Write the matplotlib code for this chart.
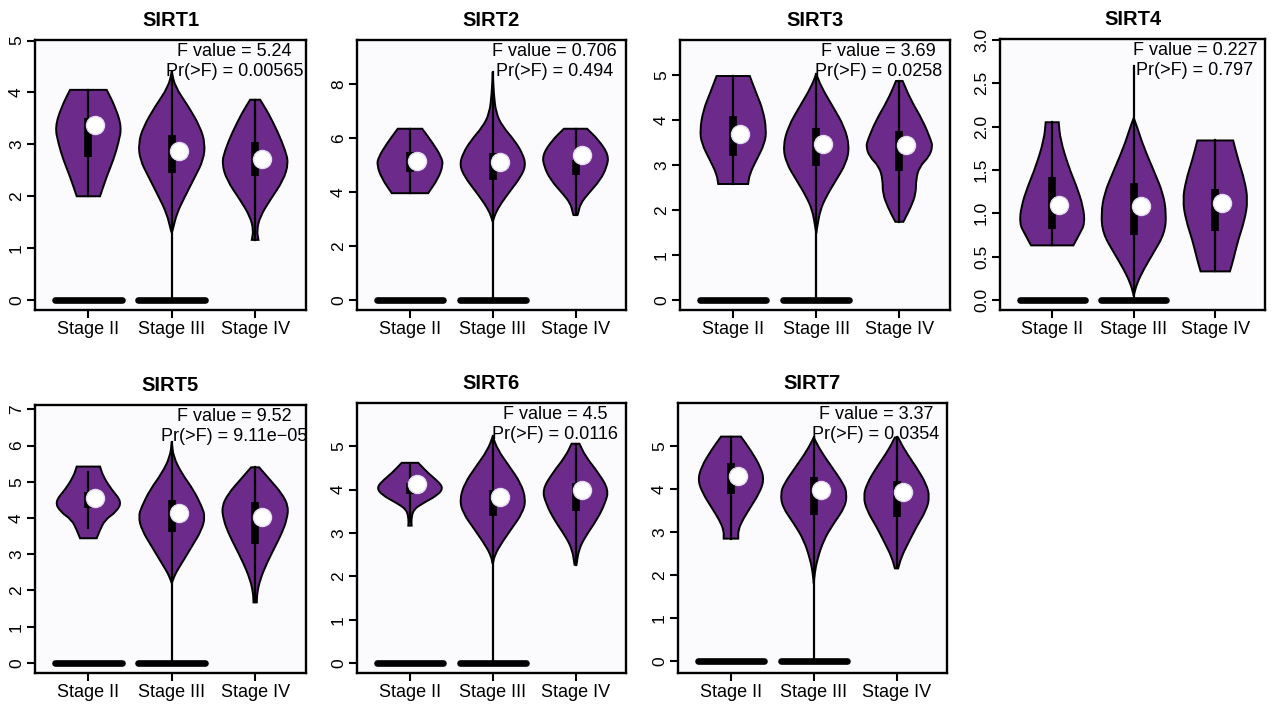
import matplotlib
matplotlib.use('Agg')
import matplotlib.pyplot as plt
import matplotlib.transforms as mtransforms
from matplotlib.path import Path
from matplotlib.patches import PathPatch

plt.rcParams['font.family'] = ['Liberation Sans', 'DejaVu Sans']

stages = ['Stage II', 'Stage III', 'Stage IV']
zero_bar_stages = ['Stage II', 'Stage III']
genes = ['SIRT1', 'SIRT2', 'SIRT3', 'SIRT4', 'SIRT5', 'SIRT6', 'SIRT7']
f_values = ['5.24', '0.706', '3.69', '0.227', '9.52', '4.5', '3.37']
p_values = ['0.00565', '0.494', '0.0258', '0.797', '9.11e\u221205', '0.0116', '0.0354']

y_ticks = {
    'SIRT1': [0, 1, 2, 3, 4, 5],
    'SIRT2': [0, 2, 4, 6, 8],
    'SIRT3': [0, 1, 2, 3, 4, 5],
    'SIRT4': [0.0, 0.5, 1.0, 1.5, 2.0, 2.5, 3.0],
    'SIRT5': [0, 1, 2, 3, 4, 5, 6, 7],
    'SIRT6': [0, 1, 2, 3, 4, 5],
    'SIRT7': [0, 1, 2, 3, 4, 5],
}
y_limits = {
    'SIRT1': (-0.19, 5.01), 'SIRT2': (-0.37, 9.64), 'SIRT3': (-0.22, 5.78),
    'SIRT4': (-0.115, 3.01), 'SIRT5': (-0.28, 7.12), 'SIRT6': (-0.23, 6.0),
    'SIRT7': (-0.27, 6.0),
}

# violin outline: y levels and relative half width (1 = widest), per stage
SIRT1_Y = [[2.0, 2.38, 2.7, 3.02, 3.34, 3.73, 4.05],
           [1.3, 1.35, 1.67, 2.0, 2.38, 2.70, 3.02, 3.34, 3.73, 4.11, 4.40],
           [1.16, 1.35, 1.61, 1.93, 2.31, 2.64, 2.89, 3.21, 3.6, 3.86]]
SIRT1_W = [[0.35, 0.55, 0.75, 0.9, 1.0, 0.8, 0.55],
           [0, 0.03, 0.15, 0.4, 0.7, 0.95, 1.0, 0.85, 0.5, 0.1, 0],
           [0.1, 0.05, 0.15, 0.45, 0.85, 1.0, 0.9, 0.7, 0.4, 0.15]]
# min, q1, median, q3, max
SIRT1_S = [[2.0, 2.75, 3.37, 3.5, 4.05], [0, 2.45, 2.87, 3.18, 4.4], [1.16, 2.4, 2.72, 3.05, 3.86]]

SIRT2_Y = [[3.96, 4.5, 5.0, 5.3, 5.8, 6.35],
           [2.9, 2.97, 3.21, 3.58, 4.08, 4.57, 5.0, 5.44, 5.93, 6.43, 6.92, 7.66, 8.45],
           [3.15, 3.21, 3.58, 3.96, 4.45, 4.94, 5.38, 5.93, 6.35]]
SIRT2_W = [[0.55, 0.85, 1.0, 0.95, 0.7, 0.37],
           [0, 0.02, 0.08, 0.25, 0.55, 0.85, 1.0, 0.9, 0.65, 0.3, 0.1, 0.03, 0],
           [0.06, 0.08, 0.15, 0.4, 0.75, 0.95, 1.0, 0.7, 0.35]]
SIRT2_S = [[3.96, 4.75, 5.15, 5.5, 6.35], [0, 4.45, 5.1, 5.45, 8.45], [3.15, 4.65, 5.38, 5.2, 6.35]]

SIRT3_Y = [[2.58, 2.81, 3.11, 3.48, 3.78, 4.22, 4.59, 4.98],
           [1.48, 1.63, 2.0, 2.3, 2.67, 3.04, 3.41, 3.85, 4.3, 4.74, 5.03],
           [1.74, 1.78, 2.07, 2.37, 2.67, 2.96, 3.19, 3.41, 3.56, 4.0, 4.44, 4.87]]
SIRT3_W = [[0.45, 0.5, 0.7, 0.95, 1.0, 0.9, 0.7, 0.5],
           [0, 0.03, 0.12, 0.3, 0.6, 0.9, 1.0, 0.85, 0.5, 0.15, 0],
           [0.12, 0.15, 0.35, 0.5, 0.5, 0.6, 0.9, 1.0, 0.95, 0.7, 0.35, 0.1]]
SIRT3_S = [[2.58, 3.2, 3.7, 4.1, 4.98], [0, 2.97, 3.47, 3.83, 5.03], [1.74, 2.87, 3.45, 3.75, 4.87]]

SIRT4_Y = [[0.63, 0.77, 0.88, 1.08, 1.31, 1.54, 1.85, 2.05],
           [0.05, 0.08, 0.19, 0.35, 0.54, 0.77, 1.0, 1.23, 1.46, 1.77, 2.0, 2.1],
           [0.33, 0.46, 0.69, 0.92, 1.15, 1.38, 1.62, 1.84]]
SIRT4_W = [[0.65, 0.85, 1.0, 0.95, 0.75, 0.5, 0.25, 0.2],
           [0, 0.02, 0.1, 0.3, 0.6, 0.95, 1.0, 0.9, 0.65, 0.3, 0.1, 0],
           [0.45, 0.55, 0.7, 0.9, 1.0, 0.9, 0.7, 0.55]]
SIRT4_S = [[0.63, 0.82, 1.1, 1.42, 2.05], [0, 0.75, 1.08, 1.35, 2.7], [0.33, 0.8, 1.12, 1.28, 1.84]]

SIRT5_Y = [[3.44, 3.67, 3.95, 4.18, 4.45, 4.78, 5.14, 5.42],
           [2.2, 2.3, 2.48, 2.75, 3.21, 3.67, 4.04, 4.32, 4.78, 5.23, 5.69, 6.1],
           [1.67, 1.93, 2.3, 2.75, 3.21, 3.58, 3.95, 4.32, 4.68, 5.05, 5.4]]
SIRT5_W = [[0.25, 0.35, 0.5, 0.85, 1.0, 0.7, 0.45, 0.35],
           [0, 0.04, 0.12, 0.3, 0.6, 0.9, 1.0, 0.9, 0.65, 0.3, 0.05, 0],
           [0.05, 0.06, 0.15, 0.35, 0.6, 0.8, 0.95, 1.0, 0.8, 0.45, 0.12]]
SIRT5_S = [[3.72, 4.27, 4.55, 4.73, 5.28], [0, 3.6, 4.15, 4.5, 6.1], [1.67, 3.27, 4.02, 4.45, 5.4]]

SIRT6_Y = [[3.17, 3.31, 3.54, 3.69, 3.88, 4.04, 4.19, 4.38, 4.62],
           [2.31, 2.46, 2.69, 3.08, 3.46, 3.77, 4.15, 4.54, 4.92, 5.23],
           [2.27, 2.62, 2.92, 3.31, 3.69, 4.0, 4.38, 4.77, 5.06]]
SIRT6_W = [[0.05, 0.04, 0.1, 0.4, 0.85, 1.0, 0.85, 0.55, 0.25],
           [0.01, 0.05, 0.2, 0.55, 0.9, 1.0, 0.85, 0.5, 0.15, 0],
           [0.03, 0.1, 0.3, 0.65, 0.9, 1.0, 0.7, 0.3, 0.12]]
SIRT6_S = [[3.25, 3.9, 4.13, 4.15, 4.58], [0, 3.4, 3.83, 4.0, 5.23], [2.27, 3.5, 4.0, 4.15, 5.06]]

SIRT7_Y = [[2.85, 3.05, 3.28, 3.59, 3.9, 4.2, 4.51, 4.9, 5.22],
           [1.81, 2.04, 2.35, 2.82, 3.2, 3.59, 3.9, 4.12, 4.51, 4.9, 5.2],
           [2.16, 2.43, 2.74, 3.12, 3.51, 3.82, 4.12, 4.51, 4.9, 5.2]]
SIRT7_W = [[0.22, 0.22, 0.35, 0.6, 0.85, 1.0, 0.9, 0.6, 0.3],
           [0, 0.03, 0.1, 0.3, 0.6, 0.95, 1.0, 0.9, 0.55, 0.2, 0],
           [0.05, 0.15, 0.35, 0.6, 0.9, 1.0, 0.9, 0.6, 0.25, 0.05]]
SIRT7_S = [[2.85, 3.88, 4.3, 4.6, 5.22], [0, 3.4, 3.98, 4.27, 5.2], [2.16, 3.35, 3.93, 4.2, 5.2]]

violin_y = [SIRT1_Y, SIRT2_Y, SIRT3_Y, SIRT4_Y, SIRT5_Y, SIRT6_Y, SIRT7_Y]
violin_w = [SIRT1_W, SIRT2_W, SIRT3_W, SIRT4_W, SIRT5_W, SIRT6_W, SIRT7_W]
violin_s = [SIRT1_S, SIRT2_S, SIRT3_S, SIRT4_S, SIRT5_S, SIRT6_S, SIRT7_S]

# axes boxes in pixels (left, top, right, bottom)
W, H = 1278, 704
boxes = [(35, 40, 306, 310), (357, 40, 626, 310), (680, 40, 950, 310), (1000, 39, 1265, 310),
         (35, 405, 306, 673), (357, 403, 626, 673), (678, 403, 947, 673)]

purple = '#6C2A8A'
half = 0.4


def side_codes(pts):
    # smooth one side with quadratic curves, keeping both end points
    verts = [pts[0]]
    codes = [Path.LINETO]
    if len(pts) > 2:
        m = ((pts[0][0] + pts[1][0]) / 2, (pts[0][1] + pts[1][1]) / 2)
        verts.append(m)
        codes.append(Path.LINETO)
        for k in range(1, len(pts) - 1):
            m = ((pts[k][0] + pts[k + 1][0]) / 2, (pts[k][1] + pts[k + 1][1]) / 2)
            verts += [pts[k], m]
            codes += [Path.CURVE3, Path.CURVE3]
    verts.append(pts[-1])
    codes.append(Path.LINETO)
    return verts, codes


def violin_path(c, ys, ws):
    right = [(c + w, y) for y, w in zip(ys, ws)]
    left = [(c - w, y) for y, w in zip(ys, ws)][::-1]
    v1, c1 = side_codes(right)
    v2, c2 = side_codes(left)
    c1[0] = Path.MOVETO
    verts = v1 + v2 + [right[0]]
    codes = c1 + c2 + [Path.CLOSEPOLY]
    return Path(verts, codes)


fig = plt.figure(figsize=(W / 100, H / 100), dpi=100)
fig.patch.set_facecolor('white')

for i, gene in enumerate(genes):
    l, t, r, b = boxes[i]
    ax = fig.add_axes([l / W, 1 - b / H, (r - l) / W, (b - t) / H])
    ax.set_facecolor('#FBFBFD')
    xs = range(1, len(stages) + 1)

    for j, stage in enumerate(stages):
        c = j + 1
        if stage in zero_bar_stages:
            ax.plot([c - half, c + half], [0, 0], color='black', lw=4.8,
                    solid_capstyle='round', zorder=3)
        ys = violin_y[i][j]
        ws = [w * half for w in violin_w[i][j]]
        ax.add_patch(PathPatch(violin_path(c, ys, ws), facecolor=purple,
                               edgecolor='black', lw=1.4, zorder=2))
        lo, q1, med, q3, hi = violin_s[i][j]
        ax.plot([c, c], [lo, hi], color='black', lw=1.6, zorder=3)
        ax.plot([c, c], [min(q1, q3), max(q1, q3)], color='black', lw=5.5,
                solid_capstyle='butt', zorder=4)
        tr = mtransforms.offset_copy(ax.transData, fig=fig, x=5, y=0, units='points')
        ax.plot([c], [med], 'o', ms=13, mfc='white', mec='#E4DAF2', mew=1.0,
                transform=tr, zorder=5)

    ax.set_xlim(0.36, 3.61)
    ax.set_ylim(*y_limits[gene])
    ax.set_xticks(list(xs))
    ax.set_xticklabels(stages, fontsize=13)
    ax.set_yticks(y_ticks[gene])
    if gene == 'SIRT4':
        ax.set_yticklabels(['%.1f' % v for v in y_ticks[gene]], fontsize=12.5,
                           rotation=90, va='center')
    else:
        ax.set_yticklabels([str(v) for v in y_ticks[gene]], fontsize=12.5,
                           rotation=90, va='center')
    ax.tick_params(axis='both', direction='out', length=6, width=1.5, color='black')
    ax.tick_params(axis='x', pad=2)
    ax.tick_params(axis='y', pad=2)
    for sp in ax.spines.values():
        sp.set_linewidth(1.7)
        sp.set_color('black')

    ax.set_title(gene, fontsize=14.5, fontweight='bold', pad=10)

    tb = mtransforms.blended_transform_factory(ax.transData, ax.transAxes)
    ax.text(2.75, 0.958, 'F value = ' + f_values[i], transform=tb, ha='center',
            va='center', fontsize=13, zorder=6)
    ax.text(2.75, 0.884, 'Pr(>F) = ' + p_values[i], transform=tb, ha='center',
            va='center', fontsize=13, zorder=6)

fig.savefig('out.png', dpi=100)
